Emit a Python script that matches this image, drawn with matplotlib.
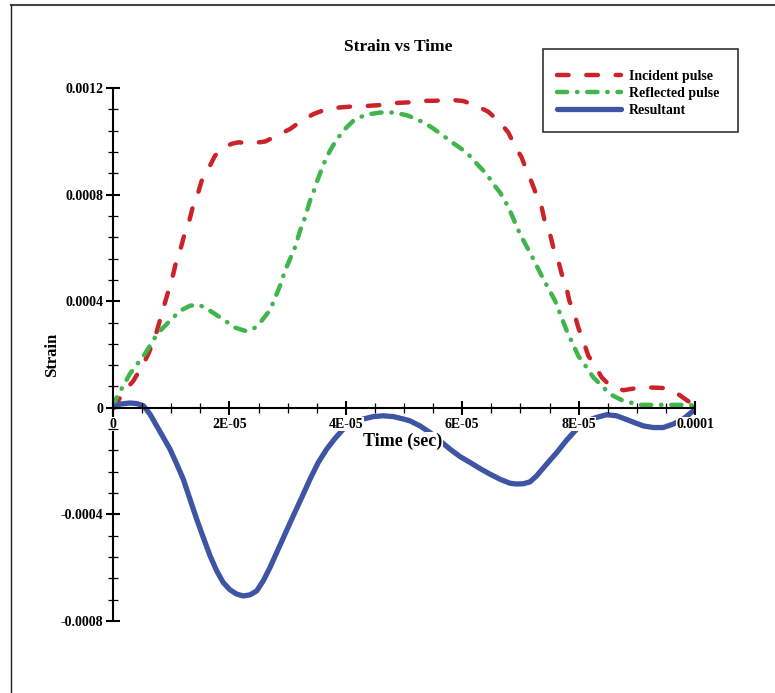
import numpy as np
import matplotlib
matplotlib.use('Agg')
import matplotlib.pyplot as plt
from matplotlib.lines import Line2D
from matplotlib.patches import Rectangle

plt.rcParams['font.family'] = ['Liberation Serif', 'DejaVu Serif']
plt.rcParams['font.weight'] = 'bold'

# Data (time in microseconds, strain in micro-strain)
incident_t = [0, 2.06, 3.49, 5.21, 6.07, 7.22, 8.93, 9.79, 10.36, 10.95, 11.68,
              12.37, 13.11, 13.69, 14.48, 15.24, 16.37, 17.53, 19.24, 20.45, 21.53,
              23.83, 26.12, 28.13, 30.41, 32.42, 34.42, 36.72, 39.00, 41.29, 43.87,
              45.88, 48.75, 50.74, 53.32, 55.33, 57.90, 60.19, 62.49, 64.48, 66.49,
              67.92, 69.07, 70.22, 71.08, 71.94, 72.80, 73.66, 74.23, 75.09, 75.65,
              76.51, 77.10, 77.84, 78.40, 79.21, 79.95, 80.70, 81.67, 82.65, 83.97,
              85.40, 87.68, 89.98, 92.56, 94.85, 97.13, 99.14, 100]
incident_s = [0, 64, 101, 164, 202, 264, 395, 458, 502, 558, 602,
              658, 702, 752, 796, 852, 896, 946, 980, 991, 996,
              993, 999, 1021, 1046, 1077, 1102, 1121, 1127, 1131, 1133,
              1136, 1144, 1146, 1152, 1152, 1156, 1151, 1133, 1111, 1071,
              1033, 983, 939, 889, 846, 796, 752, 695, 652, 602,
              552, 502, 458, 402, 358, 301, 258, 195, 164, 114,
              83, 66, 74, 76, 74, 51, 20, 0]

reflected_t = [0, 0.64, 2.92, 5.50, 7.22, 8.08, 9.50, 11.51, 13.23, 14.66, 15.81,
               17.53, 19.24, 20.96, 22.68, 24.11, 25.55, 26.68, 27.54, 28.69, 29.55,
               30.41, 31.27, 32.13, 32.99, 33.85, 34.42, 35.00, 35.69, 36.43, 37.29,
               38.14, 39.57, 41.29, 42.73, 44.16, 45.88, 48.16, 50.46, 51.89, 53.32,
               54.76, 56.75, 58.47, 59.91, 60.77, 62.20, 63.35, 64.21, 65.34, 66.49,
               67.35, 68.21, 69.93, 71.94, 73.94, 75.95, 77.96, 79.95, 81.39, 82.53,
               83.97, 85.40, 87.68, 90.55, 95.70, 99.14, 100]
reflected_s = [4, 39, 128, 203, 264, 289, 320, 364, 383, 387, 376,
               352, 327, 301, 289, 295, 327, 358, 395, 458, 514,
               558, 602, 664, 714, 777, 808, 846, 886, 927, 965,
               996, 1040, 1077, 1093, 1102, 1108, 1108, 1098, 1086, 1071,
               1052, 1021, 993, 971, 958, 923, 896, 877, 840, 808,
               777, 739, 652, 570, 483, 402, 289, 195, 151, 114,
               83, 51, 26, 11, 11, 11, 7]

resultant_t = [0, 1.20, 2.92, 4.07, 5.21, 6.36, 7.51, 8.64, 9.79, 10.95, 12.08,
               13.23, 14.38, 15.52, 16.67, 17.82, 18.95, 20.10, 21.25, 22.39, 23.54,
               24.69, 25.82, 26.98, 28.13, 29.55, 30.98, 32.42, 33.85, 35.27, 36.72,
               38.14, 39.57, 41.29, 43.01, 44.73, 46.44, 48.16, 49.88, 51.03, 52.75,
               54.47, 56.19, 57.90, 59.62, 61.34, 63.06, 64.78, 66.49, 68.21, 69.36,
               70.50, 71.65, 72.80, 74.52, 76.24, 77.96, 79.67, 81.39, 83.11, 84.83,
               86.55, 88.83, 91.12, 92.84, 94.55, 96.27, 97.99, 99.71, 100]
resultant_s = [0, 14, 18, 16, 8, -24, -68, -111, -155, -211, -268,
               -343, -418, -487, -555, -612, -656, -683, -699, -706, -702,
               -687, -649, -599, -543, -474, -405, -337, -268, -205, -155,
               -115, -80, -57, -42, -33, -30, -33, -42, -49, -68,
               -93, -124, -155, -183, -205, -228, -249, -268, -283, -286,
               -285, -278, -255, -211, -168, -121, -80, -49, -36, -26,
               -30, -49, -68, -74, -74, -61, -42, -11, 0]

series_names = ['Incident pulse', 'Reflected pulse', 'Resultant']
colors = ['#CC2229', '#3FB54B', '#3E55A5']

x_ticks = [0, 2e-5, 4e-5, 6e-5, 8e-5, 1e-4]
x_ticklabels = ['0', '2E-05', '4E-05', '6E-05', '8E-05', '0.0001']
y_ticks = [-0.0008, -0.0004, 0, 0.0004, 0.0008, 0.0012]
y_ticklabels = ['-0.0008', '-0.0004', '0', '0.0004', '0.0008', '0.0012']

W, H = 775, 693
fig = plt.figure(figsize=(W / 100, H / 100), dpi=100)
ax = fig.add_axes([113 / W, 1 - 621 / H, (695 - 113) / W, (621 - 88) / H])

us = 1e-6
l1, = ax.plot(np.array(incident_t) * us, np.array(incident_s) * us, color=colors[0],
              lw=3.2, dash_capstyle='round', solid_capstyle='round',
              solid_joinstyle='round')
l1.set_dashes([2.6, 4.0])
l2, = ax.plot(np.array(reflected_t) * us, np.array(reflected_s) * us, color=colors[1],
              lw=3.2, dash_capstyle='round', solid_capstyle='round',
              solid_joinstyle='round')
l2.set_dashes([2.3, 2.2, 0.1, 2.2])
l3, = ax.plot(np.array(resultant_t) * us, np.array(resultant_s) * us, color=colors[2],
              lw=3.8, solid_capstyle='round', solid_joinstyle='round')

ax.set_xlim(0, 1e-4)
ax.set_ylim(-0.0008, 0.0012)

for side in ['top', 'right']:
    ax.spines[side].set_visible(False)
ax.spines['bottom'].set_position(('data', 0))
ax.spines['left'].set_linewidth(1.5)
ax.spines['bottom'].set_linewidth(1.5)
ax.set_axisbelow(False)

ax.set_xticks(x_ticks)
ax.set_xticklabels(x_ticklabels)
ax.set_yticks(y_ticks)
ax.set_yticklabels(y_ticklabels)
ax.set_xticks(np.arange(0, 1e-4 + 1e-9, 5e-6), minor=True)
ax.set_yticks(np.arange(-0.0008, 0.0012 + 1e-9, 0.00008), minor=True)
ax.tick_params(which='major', direction='inout', length=10, width=1.5,
               labelsize=10, pad=2)
ax.tick_params(which='minor', direction='inout', length=7, width=0.9)
for lbl in ax.get_xticklabels():
    lbl.set_fontweight('bold')
    lbl.set_bbox(dict(facecolor='white', edgecolor='none', pad=0.3))
for lbl in ax.get_yticklabels():
    lbl.set_fontweight('bold')

fig.text(398 / W, 1 - 47 / H, 'Strain vs Time', ha='center', va='center',
         fontsize=12.5, fontweight='bold')
fig.text(403 / W, 1 - 441 / H, 'Time (sec)', ha='center', va='center',
         fontsize=13, fontweight='bold',
         bbox=dict(facecolor='white', edgecolor='none', pad=0.5))
fig.text(52 / W, 1 - 355 / H, 'Strain', ha='center', va='center', rotation=90,
         fontsize=12, fontweight='bold')

# legend box
fig.patches.append(Rectangle((543 / W, 1 - 132 / H), (738 - 543) / W, (132 - 49) / H,
                             transform=fig.transFigure, facecolor='white',
                             edgecolor='#333333', lw=1.2, zorder=5))
leg = fig.legend([l1, l2, l3], series_names, loc='center left',
                 bbox_to_anchor=(557 / W, 1 - 93.5 / H), bbox_transform=fig.transFigure,
                 frameon=False, fontsize=10, handlelength=4.6, handletextpad=0.6,
                 labelspacing=0.3, borderpad=0, borderaxespad=0)
leg.set_zorder(6)
for t in leg.get_texts():
    t.set_fontweight('bold')

# figure frame (top and left edges)
fig.add_artist(Line2D([11 / W, 1], [1 - 5 / H, 1 - 5 / H], transform=fig.transFigure,
                      color='#444444', lw=1.5))
fig.add_artist(Line2D([11 / W, 11 / W], [0, 1 - 5 / H], transform=fig.transFigure,
                      color='#222222', lw=1.0))

fig.savefig('out.png', dpi=100)
